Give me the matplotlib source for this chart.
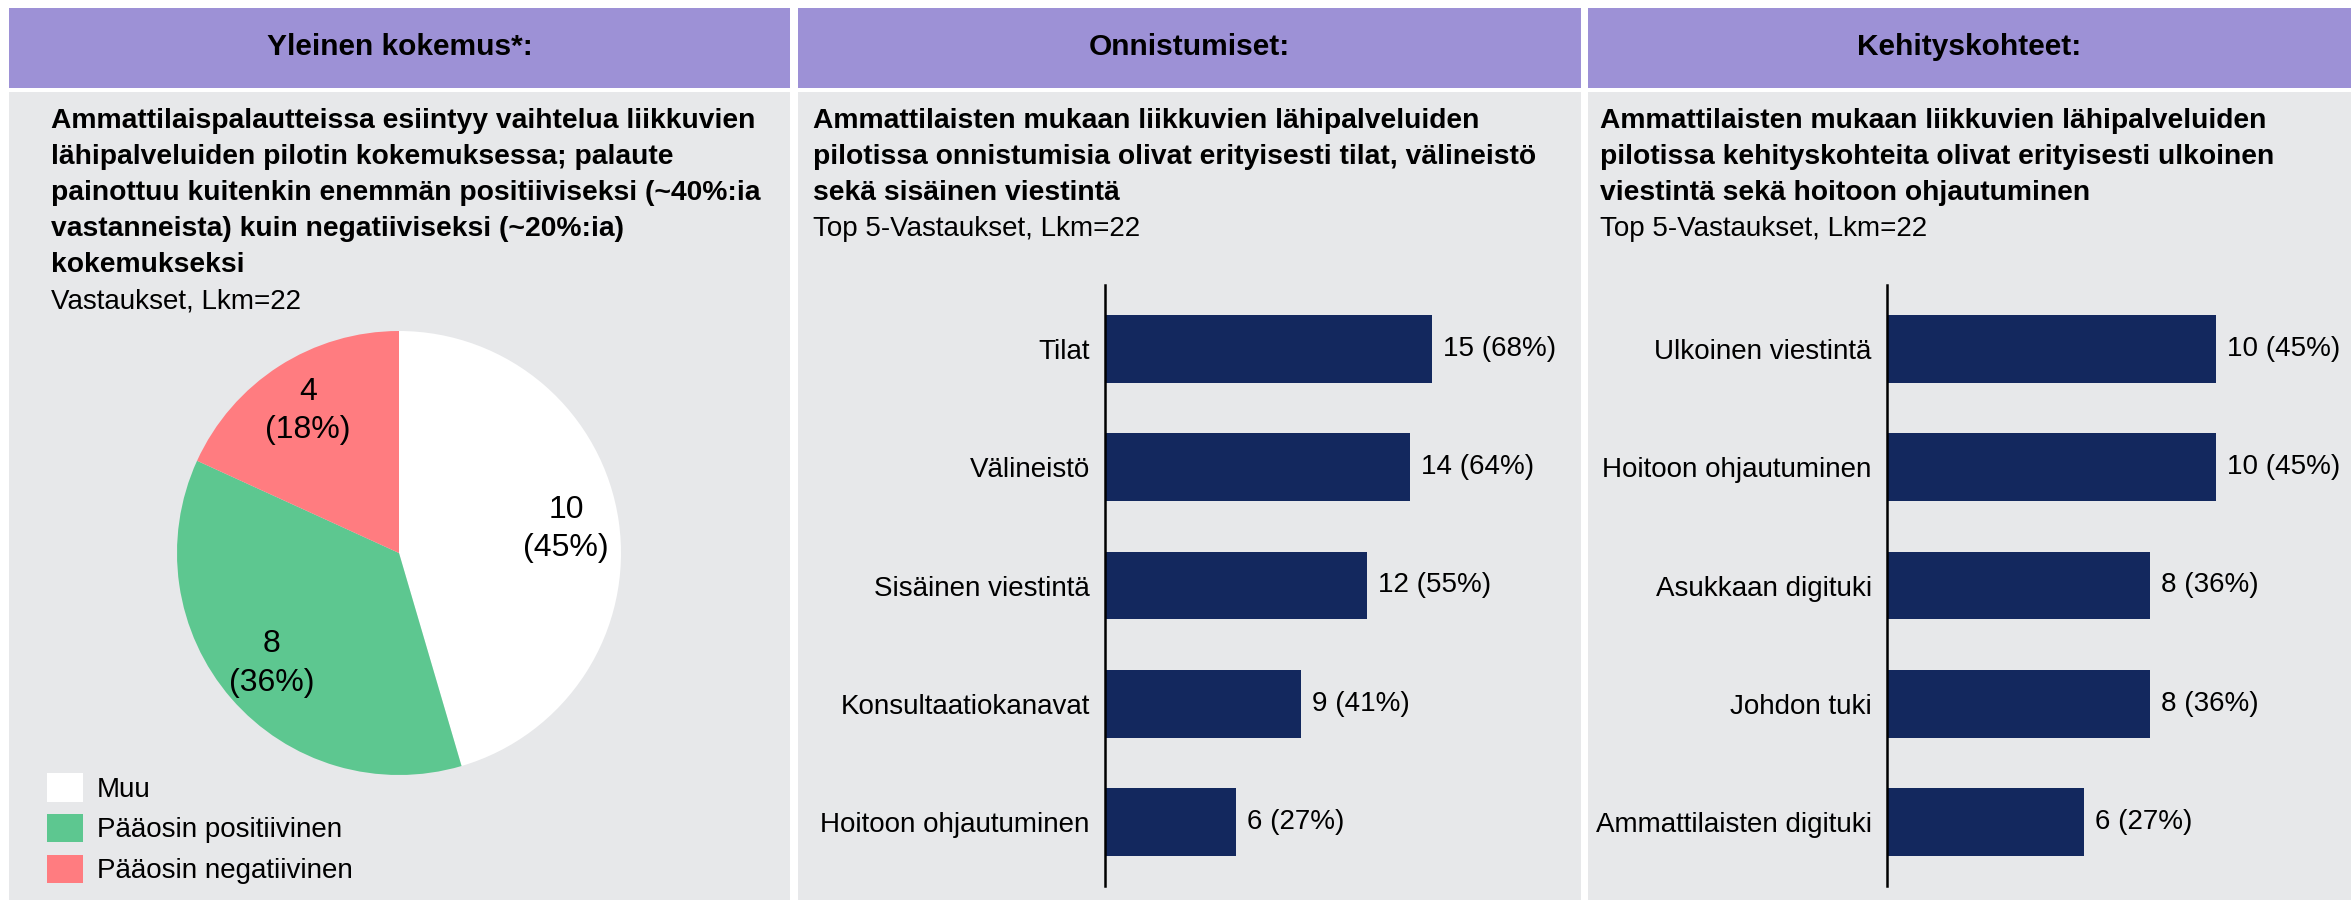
import matplotlib
matplotlib.use("Agg")
import matplotlib.pyplot as plt
from matplotlib.patches import Rectangle, Patch
from matplotlib import font_manager

# --- data ---
pie_labels = ["Muu", "Pääosin positiivinen", "Pääosin negatiivinen"]
pie_values = [10, 8, 4]
pie_colors = ["#FFFFFF", "#5DC790", "#FF7C80"]

succ_labels = ["Tilat", "Välineistö", "Sisäinen viestintä", "Konsultaatiokanavat", "Hoitoon ohjautuminen"]
succ_values = [15, 14, 12, 9, 6]

dev_labels = ["Ulkoinen viestintä", "Hoitoon ohjautuminen", "Asukkaan digituki", "Johdon tuki", "Ammattilaisten digituki"]
dev_values = [10, 10, 8, 8, 6]

n_resp = 22

headers = ["Yleinen kokemus*:", "Onnistumiset:", "Kehityskohteet:"]
titles = [
    ["Ammattilaispalautteissa esiintyy vaihtelua liikkuvien",
     "lähipalveluiden pilotin kokemuksessa; palaute",
     "painottuu kuitenkin enemmän positiiviseksi (~40%:ia",
     "vastanneista) kuin negatiiviseksi (~20%:ia)",
     "kokemukseksi"],
    ["Ammattilaisten mukaan liikkuvien lähipalveluiden",
     "pilotissa onnistumisia olivat erityisesti tilat, välineistö",
     "sekä sisäinen viestintä"],
    ["Ammattilaisten mukaan liikkuvien lähipalveluiden",
     "pilotissa kehityskohteita olivat erityisesti ulkoinen",
     "viestintä sekä hoitoon ohjautuminen"],
]
subtitles = ["Vastaukset, Lkm=22", "Top 5-Vastaukset, Lkm=22", "Top 5-Vastaukset, Lkm=22"]

# --- style ---
W, H = 2351, 900
HEADER_C = "#9D91D6"
BODY_C = "#E7E8EA"
BAR_C = "#13285E"
FS = 20

names = {f.name for f in font_manager.fontManager.ttflist}
family = ["Liberation Sans Narrow"] if "Liberation Sans Narrow" in names else ["Liberation Sans"]
plt.rcParams["font.family"] = family + ["DejaVu Sans"]

fig = plt.figure(figsize=(W / 100, H / 100), dpi=100)
fig.patch.set_facecolor("white")


def fx(x):
    return x / W


def fy(y):
    return 1 - y / H


def rect(x0, y0, x1, y1, color):
    fig.add_artist(Rectangle((fx(x0), fy(y1)), fx(x1) - fx(x0), fy(y0) - fy(y1),
                             transform=fig.transFigure, color=color, lw=0, zorder=0))


panels = [(9, 790), (798, 1581), (1588, 2351)]
text_x = [51, 813, 1600]
for i, (x0, x1) in enumerate(panels):
    rect(x0, 8, x1, 88, HEADER_C)
    rect(x0, 92, x1, H, BODY_C)
    fig.text(fx((x0 + x1) / 2), fy(47), headers[i], ha="center", va="center",
             fontsize=21.5, fontweight="bold")
    y = 121
    for line in titles[i]:
        fig.text(fx(text_x[i]), fy(y), line, ha="left", va="center",
                 fontsize=20.3, fontweight="bold")
        y += 36
    fig.text(fx(text_x[i]), fy(y), subtitles[i], ha="left", va="center", fontsize=FS)

# --- pie ---
pie_ax = fig.add_axes([fx(177), fy(775), fx(444), 444 / H])
pie_ax.pie(pie_values, colors=pie_colors, startangle=90, counterclock=False,
           wedgeprops=dict(linewidth=0), pctdistance=0.76,
           autopct=lambda p: f"{round(p * sum(pie_values) / 100)}\n({p:.0f}%)",
           textprops=dict(fontsize=23, linespacing=1.35))
pie_ax.set_aspect("auto")
pie_ax.set_xlim(-1, 1)
pie_ax.set_ylim(-1, 1)

handles = [Patch(facecolor=c, edgecolor="none") for c in pie_colors]
fig.legend(handles, pie_labels, loc="upper left", bbox_to_anchor=(fx(36), fy(762)),
           frameon=False, fontsize=FS, handlelength=1.3, handleheight=1.2,
           handletextpad=0.5, labelspacing=0.4, borderaxespad=0)


# --- bars ---
def bar_panel(left_px, labels, values, xmax):
    ax = fig.add_axes([fx(left_px), fy(886), 400 / W, 601 / H])
    ax.set_facecolor("none")
    pos = range(len(values))
    bars = ax.barh(pos, values, height=0.57, color=BAR_C)
    ax.bar_label(bars, labels=[f"{v} ({round(v / n_resp * 100)}%)" for v in values],
                 padding=8, fontsize=FS)
    ax.set_yticks(list(pos))
    ax.set_yticklabels(labels, fontsize=FS)
    ax.tick_params(axis="y", length=0, pad=11)
    ax.set_xticks([])
    ax.set_xlim(0, xmax)
    ax.set_ylim(4.54, -0.54)
    for s in ["top", "right", "bottom"]:
        ax.spines[s].set_visible(False)
    ax.spines["left"].set_linewidth(1.8)
    ax.spines["left"].set_color("black")
    return ax


bar_panel(1105, succ_labels, succ_values, 400 / 21.8)
bar_panel(1887, dev_labels, dev_values, 400 / 32.85)

fig.savefig("out.png", dpi=100, facecolor="white")
